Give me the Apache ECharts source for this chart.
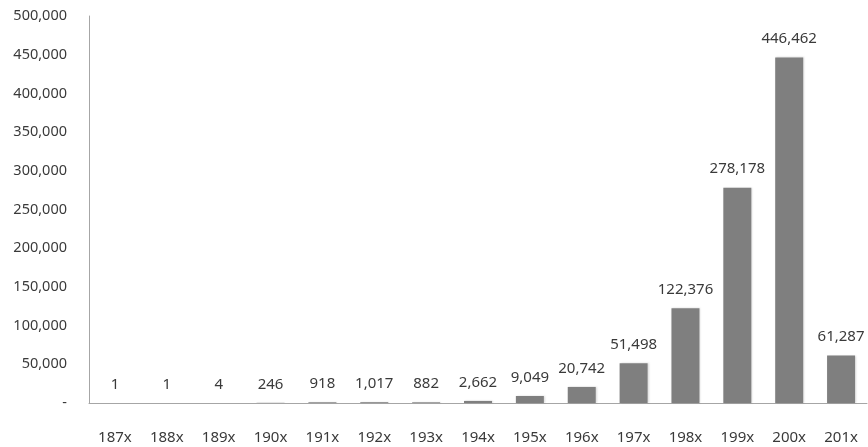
<!DOCTYPE html>
<html><head><meta charset="utf-8">
<script src="https://cdn.jsdelivr.net/npm/echarts@6/dist/echarts.min.js"></script>
<style>html,body{margin:0;padding:0;background:#fff}#c{width:868px;height:447px}</style>
</head><body><div id="c"></div>
<script>
const categories = ['187x','188x','189x','190x','191x','192x','193x','194x','195x','196x','197x','198x','199x','200x','201x'];
const values = [1,1,4,246,918,1017,882,2662,9049,20742,51498,122376,278178,446462,61287];
const yTicks = [0,50000,100000,150000,200000,250000,300000,350000,400000,450000,500000];
const fmt = v => v === 0 ? '-' : v.toLocaleString('en-US');
const chart = echarts.init(document.getElementById('c'));
chart.setOption({
  animation:false,
  grid:{left:89,right:1,top:16,bottom:44},
  xAxis:{type:'category',data:categories,
    axisLine:{lineStyle:{color:'#a6a6a6',width:1}},axisTick:{show:false},
    axisLabel:{color:'#3a3a3a',fontSize:15,margin:27,fontFamily:'Noto Sans'}},
  yAxis:{type:'value',min:yTicks[0],max:yTicks[yTicks.length-1],interval:50000,
    axisLine:{show:true,lineStyle:{color:'#a6a6a6',width:1}},axisTick:{show:false},
    splitLine:{show:false},
    axisLabel:{color:'#3a3a3a',fontSize:14.5,margin:22,fontFamily:'Noto Sans',formatter:fmt}},
  series:[{type:'bar',data:values,barWidth:28,
    itemStyle:{color:'#7f7f7f',shadowColor:'rgba(0,0,0,0.15)',shadowBlur:2,shadowOffsetX:1},
    label:{show:true,position:'top',distance:11,color:'#3a3a3a',fontSize:15,fontFamily:'Noto Sans',
      formatter:p=>p.value.toLocaleString('en-US')}}]
});
</script></body></html>
